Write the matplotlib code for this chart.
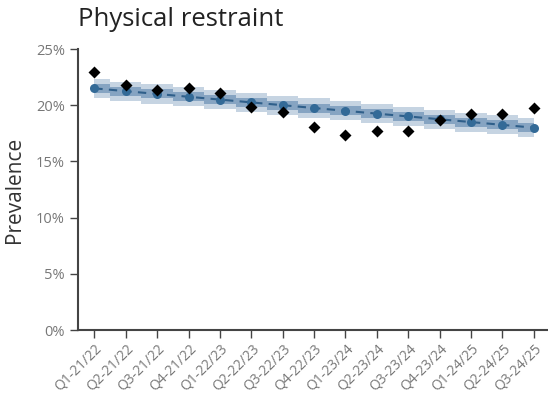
import matplotlib
matplotlib.use("Agg")
import matplotlib.pyplot as plt
import numpy as np

plt.rcParams['font.family'] = ['Open Sans', 'DejaVu Sans']

quarters = ["Q1-21/22", "Q2-21/22", "Q3-21/22", "Q4-21/22", "Q1-22/23", "Q2-22/23",
            "Q3-22/23", "Q4-22/23", "Q1-23/24", "Q2-23/24", "Q3-23/24", "Q4-23/24",
            "Q1-24/25", "Q2-24/25", "Q3-24/25"]
observed = [22.95, 21.8, 21.35, 21.5, 21.1, 19.85, 19.4, 18.05, 17.35, 17.7, 17.7,
            18.7, 19.2, 19.2, 19.75]
fitted = [21.5, 21.25, 21.0, 20.75, 20.5, 20.25, 20.0, 19.75, 19.5, 19.25, 19.0,
          18.75, 18.5, 18.25, 18.0]
inner_half = [0.4] * 15
outer_half = [0.85] * 15
yticks = [0, 5, 10, 15, 20, 25]

fig = plt.figure(figsize=(5.48, 3.96), dpi=100)
ax = fig.add_axes([78/548, 1-330/396, 470/548, 281/396])

x = np.arange(len(quarters))
fit = np.array(fitted)
ax.fill_between(x, fit - np.array(outer_half), fit + np.array(outer_half), step='mid',
                color='#c6d4e2', lw=0, zorder=1)
ax.fill_between(x, fit - np.array(inner_half), fit + np.array(inner_half), step='mid',
                color='#86a4c2', lw=0, zorder=2)
ax.plot(x, fit, ls=(0, (4, 3)), color='#2f5f8a', lw=1.5, zorder=3)
ax.plot(x, fit, 'o', color='#336a97', ms=6.5, mec='none', zorder=4)
ax.plot(x, observed, 'D', color='black', ms=6, mec='none', zorder=5)

ax.set_xlim(-0.52, 14.45)
ax.set_ylim(0, 25)
ax.set_yticks(yticks)
ax.set_yticklabels([f"{v}%" for v in yticks])
ax.set_xticks(x)
ax.set_xticklabels(quarters, rotation=45, ha='right', va='top', rotation_mode='anchor')

for s in ['top', 'right']:
    ax.spines[s].set_visible(False)
for s in ['left', 'bottom']:
    ax.spines[s].set_color('#444444')
    ax.spines[s].set_linewidth(1.5)
ax.tick_params(axis='both', colors='#444444', labelcolor='#777777', labelsize=10.5,
               length=6, width=1)
ax.tick_params(axis='x', pad=2, labelsize=10)
ax.set_ylabel("Prevalence", fontsize=15, color='#333333', labelpad=8)
fig.text(78/548, 1-20/396, "Physical restraint", fontsize=18.5, color='#222222',
         ha='left', va='center')

fig.savefig("out.png", dpi=100)
